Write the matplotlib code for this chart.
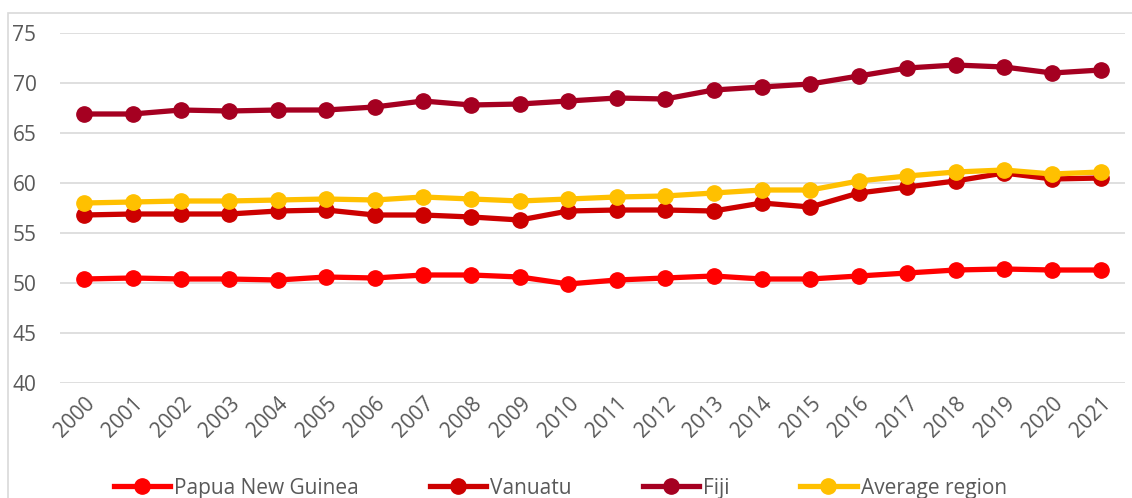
import matplotlib
matplotlib.use("Agg")
import matplotlib.pyplot as plt
from matplotlib.patches import Rectangle

years = [str(y) for y in range(2000, 2022)]
png = [50.4, 50.5, 50.4, 50.4, 50.3, 50.6, 50.5, 50.8, 50.8, 50.6, 49.9,
       50.3, 50.5, 50.7, 50.4, 50.4, 50.7, 51.0, 51.3, 51.4, 51.3, 51.3]
vanuatu = [56.8, 56.9, 56.9, 56.9, 57.2, 57.3, 56.8, 56.8, 56.6, 56.3, 57.2,
           57.3, 57.3, 57.2, 58.0, 57.6, 59.0, 59.6, 60.2, 61.0, 60.4, 60.5]
fiji = [66.9, 66.9, 67.3, 67.2, 67.3, 67.3, 67.6, 68.2, 67.8, 67.9, 68.2,
        68.5, 68.4, 69.3, 69.6, 69.9, 70.7, 71.5, 71.8, 71.6, 71.0, 71.3]
average = [58.0, 58.1, 58.2, 58.2, 58.3, 58.4, 58.3, 58.6, 58.4, 58.2, 58.4,
           58.6, 58.7, 59.0, 59.3, 59.3, 60.2, 60.7, 61.1, 61.3, 60.9, 61.1]
yticks = [40, 45, 50, 55, 60, 65, 70, 75]

W, H = 1132, 498
plt.rcParams['font.family'] = ['Open Sans', 'DejaVu Sans']
fig = plt.figure(figsize=(W/100, H/100), dpi=100)

# outer chart border
fig.patches.append(Rectangle((8/W, -0.1), 1.2, 1 - 13/H + 0.1, transform=fig.transFigure,
                             fill=False, edgecolor='#D9D9D9', linewidth=1.2))

ax = fig.add_axes([60/W, 1 - 383/H, 1065/W, 350/H])
x = list(range(len(years)))
series = [("Papua New Guinea", png, "#FF0000"),
          ("Vanuatu", vanuatu, "#CC0000"),
          ("Fiji", fiji, "#A50021"),
          ("Average region", average, "#FFC000")]
order = [2, 1, 0, 3]
lines = {}
for i in order:
    name, vals, col = series[i]
    ln, = ax.plot(x, vals, color=col, linewidth=3.8, marker='o', markersize=11,
                  label=name, zorder=3 + i, clip_on=False)
    lines[name] = ln

ax.set_xlim(-0.5, len(years) - 0.5)
ax.set_ylim(40, 75)
ax.set_yticks(yticks)
ax.set_xticks(x)
ax.set_xticklabels(years, rotation=45, ha='right', rotation_mode='anchor')
ax.grid(axis='y', color='#D9D9D9', linewidth=1.2)
ax.set_axisbelow(True)
for s in ax.spines.values():
    s.set_visible(False)
ax.tick_params(axis='both', length=0, labelsize=15, labelcolor='#595959')
ax.tick_params(axis='y', pad=17)
ax.tick_params(axis='x', pad=7)

handles = [lines[s[0]] for s in series]
leg = fig.legend(handles, [s[0] for s in series], loc='center',
                 bbox_to_anchor=(0.495, 10/H), ncol=4, frameon=False,
                 fontsize=15, handlelength=2.7, columnspacing=3.4,
                 handletextpad=0.2, labelcolor='#595959')

fig.savefig("out.png", dpi=100)
